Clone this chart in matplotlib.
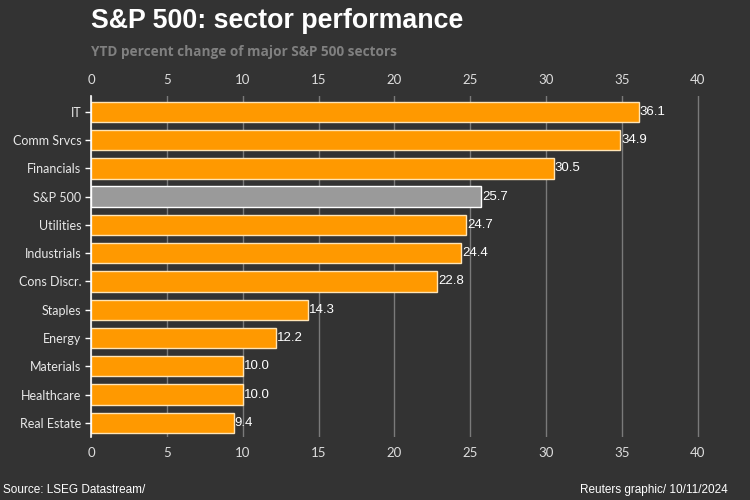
import matplotlib
matplotlib.use("Agg")
import matplotlib.pyplot as plt

categories = ["IT", "Comm Srvcs", "Financials", "S&P 500", "Utilities", "Industrials",
              "Cons Discr.", "Staples", "Energy", "Materials", "Healthcare", "Real Estate"]
values = [36.1, 34.9, 30.5, 25.7, 24.7, 24.4, 22.8, 14.3, 12.2, 10.0, 10.0, 9.4]
highlight = "S&P 500"
xticks = [0, 5, 10, 15, 20, 25, 30, 35, 40]

bg = "#333333"
orange = "#FF9900"
grey = "#9A9A9A"

fig = plt.figure(figsize=(7.5, 5), dpi=100, facecolor=bg)
ax = fig.add_axes([91/750, 1-437/500, (728-91)/750, (437-96)/500])
ax.set_facecolor(bg)

ypos = list(range(len(categories)))
colors = [grey if c == highlight else orange for c in categories]
edges = ["#FFFFFF" if c == highlight else "#FFE4B5" for c in categories]
ax.barh(ypos, values, height=0.72, color=colors, edgecolor=edges, linewidth=1.0, zorder=3)

for y, v in zip(ypos, values):
    ax.text(v + 0.08, y, f"{v:.1f}", va="center", ha="left", color="white",
            fontsize=9.5, family="Liberation Sans", zorder=4)

ax.set_xlim(0, 42)
ax.set_ylim(len(categories) - 0.5, -0.56)
ax.set_xticks(xticks)
ax.set_xticklabels([str(t) for t in xticks])
ax.set_yticks(ypos)
ax.set_yticklabels(categories)
ax.tick_params(axis="x", which="both", top=True, labeltop=True, bottom=False, labelbottom=True,
               colors="#DDDDDD", labelsize=9.5, length=0, pad=7)
ax.tick_params(axis="y", colors="white", labelcolor="#E8E8E8", labelsize=9, length=4, width=1, pad=3)
for lab in ax.get_xticklabels() + ax.get_yticklabels():
    lab.set_family("Lato")
ax.grid(axis="x", color="#7A7A7A", linewidth=1.0, zorder=0)
for s in ["top", "right", "bottom"]:
    ax.spines[s].set_visible(False)
ax.spines["left"].set_color("white")
ax.spines["left"].set_linewidth(1.2)
ax.spines["left"].set_zorder(5)

fig.text(91/750, 1-21/500, "S&P 500: sector performance", color="white", fontsize=19.3,
         fontweight="bold", family="Liberation Sans", va="center", ha="left")
fig.text(91/750, 1-52/500, "YTD percent change of major S&P 500 sectors", color="#808080",
         fontsize=9.8, fontweight="bold", family="Open Sans", va="center", ha="left")
fig.text(3/750, 1-490/500, "Source: LSEG Datastream/", color="white", fontsize=8.5,
         family="Liberation Sans", va="center", ha="left")
fig.text(728/750, 1-490/500, "Reuters graphic/ 10/11/2024", color="white", fontsize=8.5,
         family="Liberation Sans", va="center", ha="right")

fig.savefig("out.png", dpi=100, facecolor=bg)
